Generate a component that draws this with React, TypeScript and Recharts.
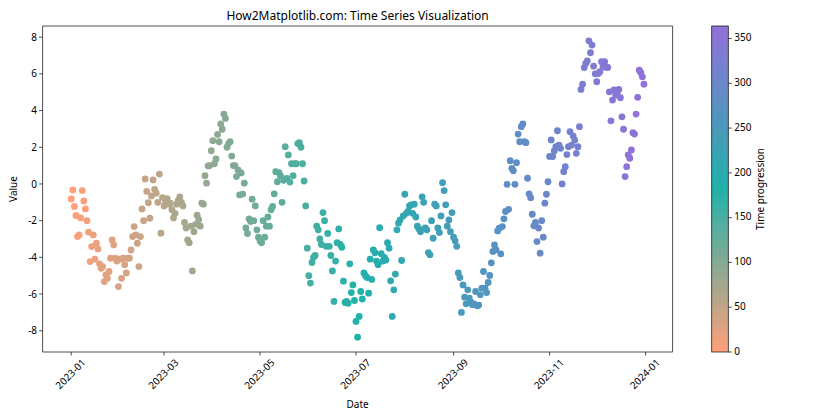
import { ScatterChart, Scatter, XAxis, YAxis, ReferenceArea, Cell } from 'recharts';

// daily values, 2023-01-01 .. 2023-12-31
const jan = [-0.82, -0.33, -1.23, -1.72, -2.87, -2.78, -1.85, -0.36, -0.93, -1.36, -2.0, -2.63, -4.23, -3.41, -2.78, -4.1, -3.23, -3.54, -4.35, -4.6, -4.5, -5.32, -4.95, -5.14, -4.77, -4.05, -3.05, -3.32, -4.05, -4.2, -5.59];
const feb = [-4.1, -5.14, -4.05, -4.4, -4.85, -4.05, -4.05, -3.6, -2.87, -2.32, -2.78, -3.23, -4.5, -2.87, -1.36, -2.0, 0.27, -0.4, -1.02, -1.87, -0.65, 0.22, -0.29, -0.5, -1.0, 0.54, -2.68, -0.74];
const mar = [-1.2, -1.0, -0.8, -1.1, -1.05, -1.4, -1.85, -1.6, -1.1, -0.9, -0.7, -1.0, -1.2, -2.1, -2.4, -3.05, -3.2, -2.3, -4.74, -2.6, -2.2, -1.7, -1.95, -2.3, -1.05, -1.1, 0.45, 0.04, 0.98, 1.0, 1.81];
const apr = [2.36, 1.1, 1.36, 2.7, 2.3, 3.27, 2.98, 3.81, 3.57, 2.0, 2.2, 2.3, 1.52, 1.0, 1.0, 0.4, 0.76, -0.6, 0.6, -0.55, 0.04, -2.4, -2.7, -1.9, -2.05, -0.83, -2.0, -1.2, -2.5, -2.9];
const may = [-3.1, -3.2, -2.0, -2.9, -2.3, -1.8, -2.3, -1.4, -1.23, -0.54, 0.67, 0.12, 0.62, 0.45, -1.0, 0.2, 2.03, 0.3, 1.58, 0.1, 1.1, 0.45, 1.1, 1.1, 2.2, 2.25, 2.0, 1.1, 0.16, -1.2, -3.5];
const jun = [-5.0, -5.4, -4.28, -4.0, -3.9, -2.3, -2.5, -3.0, -3.3, -1.56, -2.0, -3.4, -2.7, -3.4, -3.9, -4.74, -6.4, -4.2, -3.2, -2.45, -3.3, -3.45, -5.3, -6.46, -6.4, -6.5, -4.35, -5.92, -5.5, -6.35];
const jul = [-7.49, -8.35, -7.22, -5.86, -6.27, -4.85, -5.0, -5.1, -5.95, -4.1, -5.2, -3.6, -3.75, -4.2, -4.4, -2.38, -3.8, -4.2, -4.0, -4.15, -3.2, -3.5, -5.28, -7.22, -5.77, -4.91, -2.5, -2.14, -1.96, -4.17, -1.74];
const aug = [-0.56, -1.6, -1.5, -1.2, -1.14, -1.6, -1.1, -1.8, -2.3, -2.45, -2.6, -0.7, -1.0, -2.4, -2.5, -3.74, -3.86, -2.0, -2.96, -1.1, -1.2, -2.4, -2.65, -1.74, 0.07, -0.36, -1.14, -2.3, -1.96, -2.6, -1.56];
const sep = [-2.9, -3.1, -3.4, -4.85, -5.1, -7.0, -5.5, -6.17, -6.53, -5.77, -6.22, -6.46, -6.58, -6.53, -5.86, -6.64, -6.6, -6.04, -5.68, -4.77, -5.68, -5.92, -5.37, -4.99, -4.3, -3.68, -3.32, -3.59, -2.56, -2.41];
const oct = [-3.81, -2.32, -1.9, -1.5, -0.02, -1.38, 1.27, 0.85, 0.72, -0.02, 1.16, 2.72, 2.3, 3.12, 3.27, 2.3, 2.25, 0.31, -0.54, -0.75, -1.65, -2.28, -2.1, -3.14, -2.4, -3.77, -2.0, -2.9, -1.05, -0.56, 0.12];
const nov = [1.5, 2.4, 1.49, 1.8, 2.03, 2.9, 2.12, 1.94, 0.0, 0.67, 0.94, 1.6, 2.03, 2.85, 2.12, 2.61, 2.39, 1.67, 2.03, 3.12, 5.15, 5.44, 6.34, 6.57, 6.71, 7.8, 7.15, 7.57, 6.42, 6.0];
const dec = [5.57, 6.02, 6.12, 6.66, 6.4, 6.66, 6.35, 6.35, 5.02, 3.44, 4.57, 5.12, 4.84, 4.95, 5.15, 4.7, 3.66, 2.98, 0.4, 0.94, 1.58, 1.4, 1.85, 2.79, 2.72, 3.81, 4.72, 6.2, 6.06, 5.84, 5.44];

const values = [jan, feb, mar, apr, may, jun, jul, aug, sep, oct, nov, dec].flat();

// x ticks: day offset from 2023-01-01
const tickDays = [0, 59, 120, 181, 243, 304, 365];
const tickLabels = ['2023-01', '2023-03', '2023-05', '2023-07', '2023-09', '2023-11', '2024-01'];
const yTicks = [-8, -6, -4, -2, 0, 2, 4, 6, 8];
const cbTicks = [0, 50, 100, 150, 200, 250, 300, 350];

const data = values.map((v, i) => ({ day: i, value: v }));
const dayMax = values.length - 1;

const xPad = dayMax * 0.05;
const yMin = Math.min(...values);
const yMax = Math.max(...values);
const yPad = (yMax - yMin) * 0.05;
const xDomain = [-xPad, dayMax + xPad];
const yDomain = [yMin - yPad, yMax + yPad];

const stops = [
  [255, 160, 122],
  [32, 178, 170],
  [147, 112, 219],
];

function cmap(t: number) {
  const s = Math.max(0, Math.min(1, t)) * (stops.length - 1);
  const i = Math.min(Math.floor(s), stops.length - 2);
  const f = s - i;
  const c = stops[i].map((a, k) => Math.round(a + (stops[i + 1][k] - a) * f));
  return `rgb(${c[0]},${c[1]},${c[2]})`;
}

const FONT = '"Noto Sans", "DejaVu Sans", sans-serif';

function XTick({ x, y, payload }: any) {
  const idx = tickDays.indexOf(payload.value);
  return (
    <text
      transform={`translate(${x},${y + 17}) rotate(-45)`}
      textAnchor="middle"
      dominantBaseline="middle"
      fontSize={10}
      fontFamily={FONT}
      fill="#000"
    >
      {idx >= 0 ? tickLabels[idx] : ''}
    </text>
  );
}

const PLOT_TOP = 26;
const PLOT_BOTTOM = 352;
const CB_LEFT = 711.7;
const CB_RIGHT = 728.3;

function Colorbar() {
  const h = PLOT_BOTTOM - PLOT_TOP;
  const yOf = (v: number) => PLOT_BOTTOM - (v / dayMax) * h;
  return (
    <svg width={840} height={420} style={{ position: 'absolute', left: 0, top: 0, pointerEvents: 'none' }}>
      <defs>
        <linearGradient id="cbGrad" x1="0" y1="1" x2="0" y2="0">
          {stops.map((c, i) => (
            <stop key={i} offset={i / (stops.length - 1)} stopColor={`rgb(${c.join(',')})`} />
          ))}
        </linearGradient>
      </defs>
      <text x={357.6} y={20} textAnchor="middle" fontSize={12} fontFamily={FONT} fill="#000">
        How2Matplotlib.com: Time Series Visualization
      </text>
      <text x={357.6} y={408} textAnchor="middle" fontSize={10} fontFamily={FONT} fill="#000">
        Date
      </text>
      <text transform="translate(17,189) rotate(-90)" textAnchor="middle" fontSize={10} fontFamily={FONT} fill="#000">
        Value
      </text>
      <rect x={CB_LEFT} y={PLOT_TOP} width={CB_RIGHT - CB_LEFT} height={h} fill="url(#cbGrad)" stroke="#222" strokeWidth={0.8} />
      {cbTicks.map((t) => (
        <g key={t}>
          <line x1={CB_RIGHT} x2={CB_RIGHT + 3.5} y1={yOf(t)} y2={yOf(t)} stroke="#222" strokeWidth={0.8} />
          <text x={CB_RIGHT + 6} y={yOf(t)} dominantBaseline="middle" fontSize={10} fontFamily={FONT} fill="#000">
            {t}
          </text>
        </g>
      ))}
      <text transform="translate(764,189) rotate(-90)" textAnchor="middle" fontSize={10} fontFamily={FONT} fill="#000">
        Time progression
      </text>
    </svg>
  );
}

export default function App() {
  return (
    <div style={{ position: 'absolute', left: 0, top: 0, width: 840, height: 420, background: '#fff' }}>
      <ScatterChart
        width={840}
        height={420}
        margin={{ top: PLOT_TOP, right: 167.4, bottom: 0, left: 0 }}
        style={{ position: 'absolute', left: 0, top: 0 }}
      >
        <XAxis
          type="number"
          dataKey="day"
          domain={xDomain}
          allowDataOverflow
          ticks={tickDays}
          interval={0}
          height={420 - PLOT_BOTTOM}
          axisLine={false}
          tickLine={{ stroke: '#222', strokeWidth: 0.8 }}
          tickSize={3.5}
          tick={<XTick />}
        />
        <YAxis
          type="number"
          dataKey="value"
          domain={yDomain}
          allowDataOverflow
          ticks={yTicks}
          interval={0}
          width={42.6}
          axisLine={false}
          tickLine={{ stroke: '#222', strokeWidth: 0.8 }}
          tickSize={3.5}
          tick={{ fontSize: 10, fill: '#000', fontFamily: FONT }}
        />
        <ReferenceArea
          x1={xDomain[0]}
          x2={xDomain[1]}
          y1={yDomain[0]}
          y2={yDomain[1]}
          fill="none"
          stroke="#222"
          strokeWidth={0.8}
        />
        <Scatter
          data={data}
          isAnimationActive={false}
          shape={(p: any) => <circle cx={p.cx} cy={p.cy} r={3.4} fill={p.fill} />}
        >
          {data.map((d) => (
            <Cell key={d.day} fill={cmap(d.day / dayMax)} />
          ))}
        </Scatter>
      </ScatterChart>
      <Colorbar />
    </div>
  );
}
